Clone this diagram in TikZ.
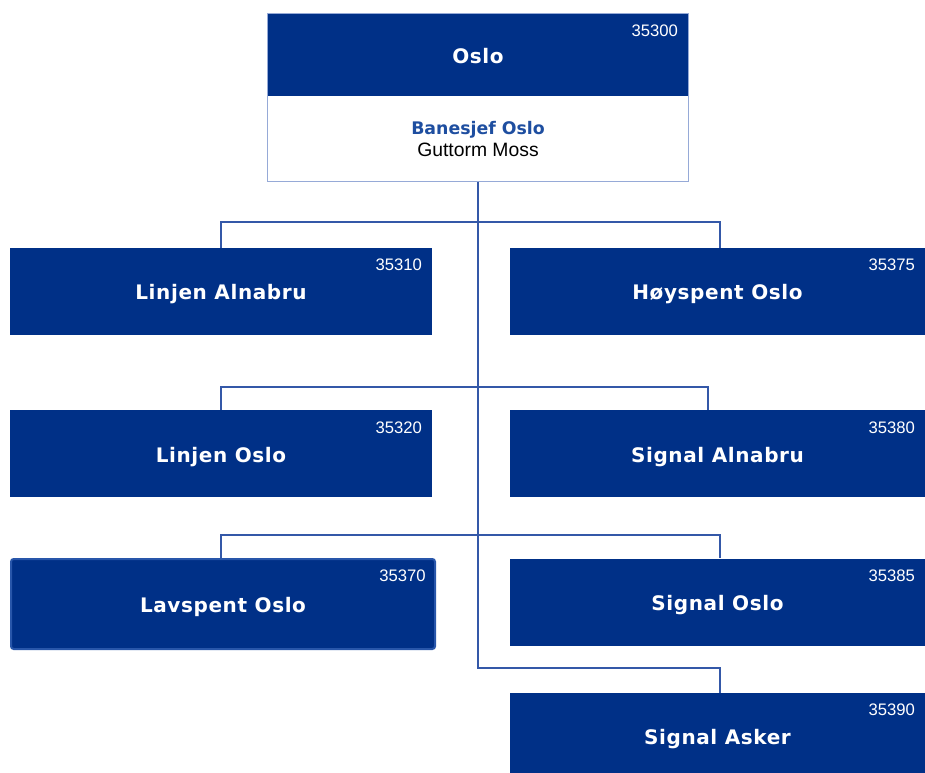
\documentclass[tikz,border=0pt]{standalone}
\usepackage{fontspec}
\setmainfont{Liberation Sans}
\newfontfamily\boxfont[LetterSpace=3]{DejaVu Sans}
\newfontfamily\headfont{DejaVu Sans}
\usetikzlibrary{positioning}
\definecolor{bnblue}{RGB}{0,48,135}
\definecolor{lineblue}{RGB}{52,88,168}
\definecolor{rimblue}{RGB}{150,170,215}
\definecolor{headblue}{RGB}{30,78,160}
\definecolor{selblue}{RGB}{40,86,170}

\begin{document}
\begin{tikzpicture}[x=0.75pt,y=-0.75pt,
  unit/.style={fill=bnblue, text=white, inner sep=0pt, minimum width=316.5pt, minimum height=65.25pt,
    text height=15.5pt, text depth=3pt, font=\boxfont\bfseries\fontsize{15}{18}\selectfont},
  num/.style={text=white, inner sep=0pt, anchor=north east, font=\fontsize{12.5}{14}\selectfont},
  conn/.style={draw=lineblue, line width=0.9pt}]
 \useasboundingbox (0,0) rectangle (925,773);
 \clip (0,0) rectangle (925,773);

  \draw (478,55) node[unit, minimum width=315pt, minimum height=61.5pt] (oslo) {Oslo};
  \node[below=0pt of oslo, fill=white, inner sep=0pt, minimum width=315pt, minimum height=63.75pt, align=center] (banesjef)
    {\textcolor{headblue}{\headfont\bfseries\fontsize{13}{16.5}\selectfont Banesjef Oslo}\\[3pt]
     \fontsize{14.5}{16.5}\selectfont Guttorm Moss};
  \draw[rimblue, line width=0.9pt] (oslo.north west) rectangle (banesjef.south east);

  \draw (221,291.5) node[unit] (linjenalnabru) {Linjen Alnabru};
  \draw (717.5,291.5) node[unit, minimum width=311.25pt] (hoyspent) {Høyspent Oslo};
  \draw (221,454) node[unit] (linjenoslo) {Linjen Oslo};
  \draw (717.5,454) node[unit, minimum width=311.25pt] (signalalnabru) {Signal Alnabru};
  \draw (223,604) node[unit, draw=selblue, line width=1.5pt, rounded corners=2pt, minimum width=318pt, minimum height=67.5pt] (lavspent) {Lavspent Oslo};
  \draw (717.5,602) node[unit, minimum width=311.25pt] (signaloslo) {Signal Oslo};
  \draw (717.5,736.5) node[unit, minimum width=311.25pt] (signalasker) {Signal Asker};

  \foreach \unitname/\code in {oslo/35300, linjenalnabru/35310, hoyspent/35375, linjenoslo/35320,
      signalalnabru/35380, lavspent/35370, signaloslo/35385, signalasker/35390}
    \node[num] (\unitname-nr) at ([xshift=-7.5pt,yshift=-8.5pt]\unitname.north east) {\code};

  \coordinate (split1) at (478,222);
  \coordinate (split2) at (478,387);
  \coordinate (split3) at (478,535);
  \coordinate (split4) at (478,668);

     \draw[conn] (banesjef.south) -- (split4) -| ([xshift=1.9pt]signalasker.north);
     \draw[conn] (linjenalnabru.north) |- (split1) -| ([xshift=1.9pt]hoyspent.north);
     \draw[conn] (linjenoslo.north) |- (split2) -| ([xshift=-7.1pt]signalalnabru.north);
     \draw[conn] ([xshift=-1.5pt]lavspent.north) |- (split3) -| ([xshift=1.9pt]signaloslo.north);
\end{tikzpicture}
\end{document}
